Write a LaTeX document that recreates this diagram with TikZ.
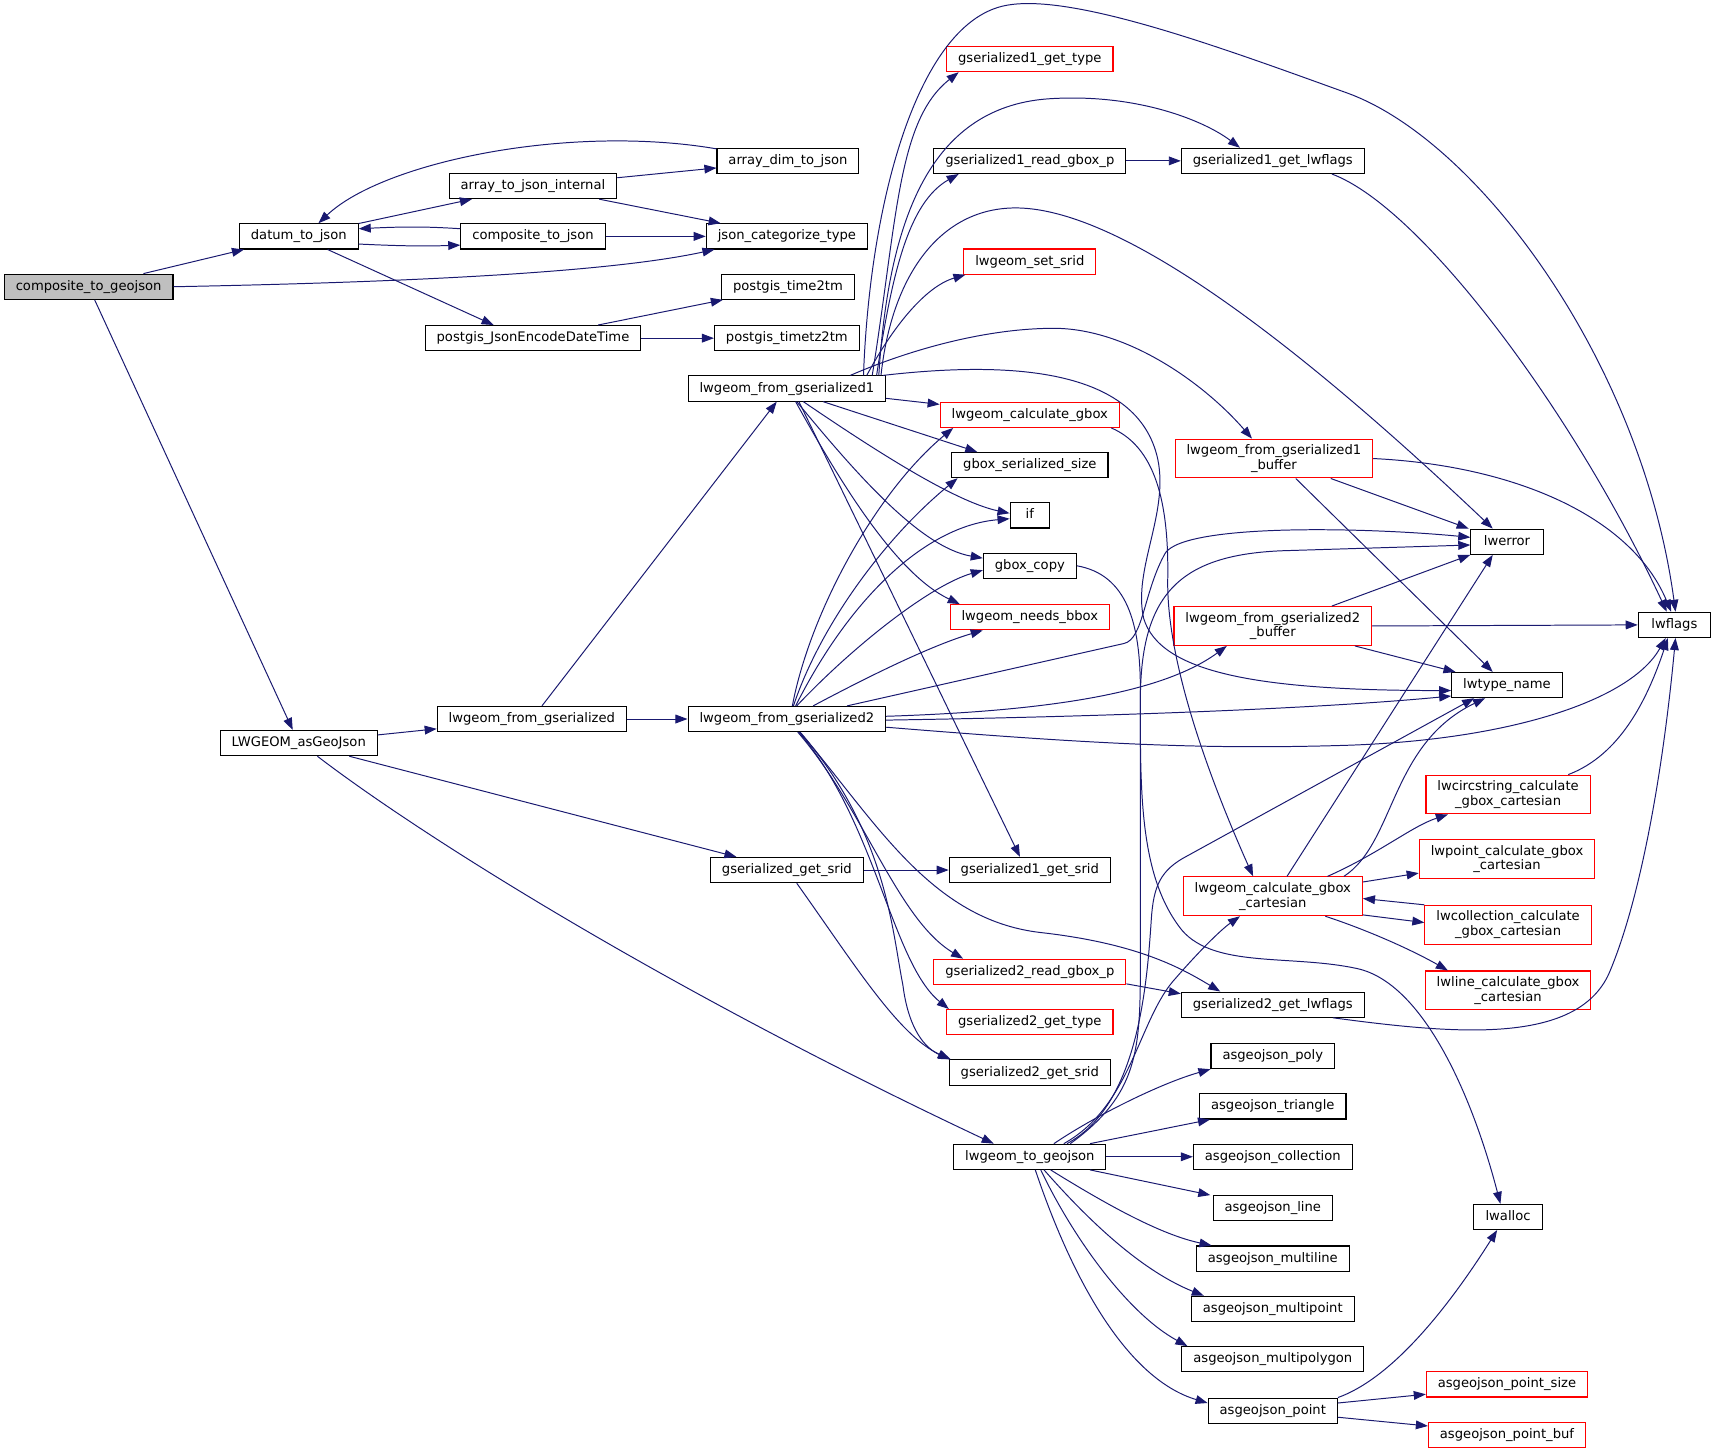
\documentclass[tikz,border=0pt]{standalone}
\usepackage{fontspec}
\usetikzlibrary{arrows.meta}
\newfontfamily\dejavu{DejaVu Sans}
\newcommand\fnfont{\dejavu\fontsize{12}{13.5}\selectfont}
\definecolor{edgeblue}{HTML}{191970}
\begin{document}
\begin{tikzpicture}[x=1pt, y=-1pt, >={Stealth[inset=0pt,length=11pt,width=8pt]},
	fn/.style={draw, line width=1pt, font=\fnfont, inner xsep=10.5pt, inner ysep=0pt, minimum height=23pt, text height=9.2pt, text depth=2.8pt},
	fnred/.style={fn, draw=red},
	fntwo/.style={draw=red, line width=1pt, font=\fnfont, align=center, inner xsep=10.5pt, inner ysep=5pt},
	call/.style={->, draw=edgeblue, line width=0.9pt}]
	\path[use as bounding box, fill=white] (0,0) rectangle (1568,1329);

	\node[fn, fill=gray!50] (compgeo) at (81,262) {composite\_to\_geojson};
	\node[fn] (datum) at (273,216) {datum\_to\_json};
	\node[fn] (arrint) at (487,170) {array\_to\_json\_internal};
	\node[fn] (compjson) at (487,216) {composite\_to\_json};
	\node[fn] (encdt) at (487,309) {postgis\_JsonEncodeDateTime};
	\node[fn] (arrdim) at (720,147) {array\_dim\_to\_json};
	\node[fn] (jsoncat) at (719,216) {json\_categorize\_type};
	\node[fn] (time2tm) at (720,262) {postgis\_time2tm};
	\node[fn] (timetz2tm) at (719,309) {postgis\_timetz2tm};
	\node[fn] (asgeo) at (273,679) {LWGEOM\_asGeoJson};
	\node[fn] (fromgs) at (486,657) {lwgeom\_from\_gserialized};
	\node[fn] (fromgs1) at (719,355) {lwgeom\_from\_gserialized1};
	\node[fn] (fromgs2) at (719,657) {lwgeom\_from\_gserialized2};
	\node[fn] (getsrid) at (719,795) {gserialized\_get\_srid};
	\node[fn] (togeo) at (941,1057) {lwgeom\_to\_geojson};
	\node[fnred] (gs1type) at (941,54) {gserialized1\_get\_type};
	\node[fn] (gs1gbox) at (941,147) {gserialized1\_read\_gbox\_p};
	\node[fnred] (setsrid) at (941,239) {lwgeom\_set\_srid};
	\node[fnred] (calcgbox) at (941,379) {lwgeom\_calculate\_gbox};
	\node[fn] (gboxsize) at (941,425) {gbox\_serialized\_size};
	\node[fn, minimum width=36pt] (ifnode) at (941,471) {if};
	\node[fn] (gboxcopy) at (941,517) {gbox\_copy};
	\node[fnred] (needsbbox) at (941,564) {lwgeom\_needs\_bbox};
	\node[fn] (gs1srid) at (941,795) {gserialized1\_get\_srid};
	\node[fnred] (gs2gbox) at (941,888) {gserialized2\_read\_gbox\_p};
	\node[fnred] (gs2type) at (941,934) {gserialized2\_get\_type};
	\node[fn] (gs2srid) at (941,980) {gserialized2\_get\_srid};
	\node[fn] (gs1flags) at (1163,147) {gserialized1\_get\_lwflags};
	\node[fntwo] (buf1) at (1164,419) {lwgeom\_from\_gserialized1\\\_buffer};
	\node[fntwo] (buf2) at (1163,572) {lwgeom\_from\_gserialized2\\\_buffer};
	\node[fntwo] (calccart) at (1163,819) {lwgeom\_calculate\_gbox\\\_cartesian};
	\node[fn] (gs2flags) at (1163,918) {gserialized2\_get\_lwflags};
	\node[fn] (poly) at (1163,965) {asgeojson\_poly};
	\node[fn] (triangle) at (1163,1011) {asgeojson\_triangle};
	\node[fn] (collection) at (1163,1057) {asgeojson\_collection};
	\node[fn] (line) at (1163,1104) {asgeojson\_line};
	\node[fn] (multiline) at (1163,1150) {asgeojson\_multiline};
	\node[fn] (multipoint) at (1163,1196) {asgeojson\_multipoint};
	\node[fn] (multipolygon) at (1163,1242) {asgeojson\_multipolygon};
	\node[fn] (point) at (1163,1289) {asgeojson\_point};
	\node[fn, minimum width=66pt] (lwerror) at (1377,495) {lwerror};
	\node[fn] (lwtypename) at (1377,626) {lwtype\_name};
	\node[fntwo] (circcart) at (1378,726) {lwcircstring\_calculate\\\_gbox\_cartesian};
	\node[fntwo] (pointcart) at (1377,785) {lwpoint\_calculate\_gbox\\\_cartesian};
	\node[fntwo] (collcart) at (1378,845) {lwcollection\_calculate\\\_gbox\_cartesian};
	\node[fntwo] (linecart) at (1378,905) {lwline\_calculate\_gbox\\\_cartesian};
	\node[fnred] (ptsize) at (1377,1265) {asgeojson\_point\_size};
	\node[fnred] (ptbuf) at (1377,1311) {asgeojson\_point\_buf};
	\node[fn, minimum width=63pt] (lwalloc) at (1378,1112) {lwalloc};
	\node[fn, minimum width=66pt] (lwflags) at (1530,571) {lwflags};

	\draw[call] (compgeo) -- (datum);
	\draw[call] (compgeo.east) .. controls (420,257) and (570,246) .. ([xshift=8pt]jsoncat.south west);
	\draw[call] (compgeo) -- (asgeo);
	\draw[call] (datum) -- (arrint);
	\draw[call] ([yshift=-7pt]datum.east) .. controls (370,225) and (390,225) .. ([yshift=-8pt]compjson.west);
	\draw[call] ([yshift=7pt]compjson.west) .. controls (390,207) and (370,207) .. ([yshift=7pt]datum.east);
	\draw[call] (datum) -- ([xshift=-36pt]encdt.north);
	\draw[call] (arrint) -- (arrdim);
	\draw[call] (arrint) -- (jsoncat);
	\draw[call] ([yshift=-1pt]arrdim.north west) .. controls (520,113) and (350,148) .. ([xshift=18pt]datum.north);
	\draw[call] (compjson) -- (jsoncat);
	\draw[call] (encdt) -- (time2tm);
	\draw[call] (encdt) -- (timetz2tm);

	\draw[call] (asgeo) -- (fromgs);
	\draw[call] (asgeo) -- (getsrid);
	\draw[call] ([xshift=17pt]asgeo.south) .. controls (380,760) and (600,900) .. ([xshift=-33pt]togeo.north);
	\draw[call] (fromgs) -- (fromgs1);
	\draw[call] (fromgs) -- (fromgs2);

	\draw[call] ([xshift=78pt]fromgs1.north) .. controls (820,200) and (820,110) .. ([xshift=-65pt]gs1type.south);
	\draw[call] ([xshift=82pt]fromgs1.north) .. controls (815,250) and (830,185) .. ([xshift=-65pt]gs1gbox.south);
	\draw[call] ([xshift=84pt]fromgs1.north) .. controls (812,200) and (850,95) .. (963,90) .. controls (1040,86) and (1100,110) .. ([xshift=-30pt]gs1flags.north);
	\draw[call] ([xshift=73pt]fromgs1.north) .. controls (815,300) and (845,262) .. ([xshift=2pt]setsrid.south west);
	\draw[call] ([xshift=86pt]fromgs1.north) .. controls (815,250) and (860,190) .. (928,190) .. controls (1010,190) and (1150,280) .. ([xshift=-13pt]lwerror.north);
	\draw[call] ([xshift=70pt]fromgs1.north) .. controls (795,180) and (840,20) .. (919,5) .. controls (980,-7) and (1120,45) .. (1231,85) .. controls (1350,128) and (1500,330) .. ([xshift=1pt]lwflags.north);
	\draw[call] ([xshift=58pt]fromgs1.north) .. controls (830,320) and (900,300) .. (963,300) .. controls (1030,300) and (1100,350) .. ([xshift=-20pt]buf1.north);
	\draw[call] ([xshift=88pt]fromgs1.north) .. controls (920,330) and (1040,335) .. (1058,420) .. controls (1068,470) and (1035,520) .. (1045,565) .. controls (1060,615) and (1150,631) .. ([yshift=-5pt]lwtypename.west);
	\draw[call] ([yshift=-9pt]fromgs1.east) -- ([yshift=9.5pt]calcgbox.west);
	\draw[call] ([xshift=33pt]fromgs1.south) -- ([xshift=-48pt]gboxsize.north);
	\draw[call] ([xshift=15pt]fromgs1.south) .. controls (790,405) and (870,458) .. ([yshift=2pt]ifnode.west);
	\draw[call] ([xshift=9pt]fromgs1.south) .. controls (780,430) and (840,500) .. ([yshift=7pt]gboxcopy.west);
	\draw[call] ([xshift=8pt]fromgs1.south) .. controls (770,445) and (820,525) .. ([xshift=-64pt]needsbbox.north);
	\draw[call] ([xshift=11pt]fromgs1.south) -- ([xshift=-9pt]gs1srid.north);

	\draw[call] ([xshift=5pt]fromgs2.north) .. controls (740,560) and (800,450) .. ([xshift=-70pt]calcgbox.south);
	\draw[call] ([xshift=6pt]fromgs2.north) .. controls (750,570) and (810,490) .. ([xshift=-66pt]gboxsize.south);
	\draw[call] ([xshift=8pt]fromgs2.north) .. controls (780,540) and (850,480) .. ([yshift=-3pt]ifnode.west);
	\draw[call] ([xshift=9pt]fromgs2.north) .. controls (780,590) and (850,535) .. ([yshift=-4pt]gboxcopy.west);
	\draw[call] ([xshift=24pt]fromgs2.north) .. controls (790,620) and (850,590) .. ([xshift=-43pt]needsbbox.south);
	\draw[call] ([xshift=55pt]fromgs2.north) -- (1027,588) .. controls (1045,584) and (1045,540) .. (1065,505) .. controls (1085,478) and (1250,482) .. ([yshift=4pt]lwerror.west);
	\draw[call] ([yshift=-1pt]fromgs2.east) .. controls (1000,655) and (1200,648) .. ([yshift=-10pt]lwtypename.west);
	\draw[call] ([yshift=2.5pt]fromgs2.east) .. controls (950,650) and (1060,635) .. ([xshift=-42pt]buf2.south);
	\draw[call] ([yshift=-7.5pt]fromgs2.east) .. controls (1000,680) and (1100,685) .. (1231,681) .. controls (1380,676) and (1490,640) .. ([xshift=-8pt]lwflags.south);
	\draw[call] ([xshift=10pt]fromgs2.south) .. controls (790,740) and (820,840) .. ([xshift=-61pt]gs2gbox.north);
	\draw[call] ([xshift=11pt]fromgs2.south) .. controls (800,750) and (815,880) .. ([xshift=-74pt]gs2type.north);
	\draw[call] ([xshift=12pt]fromgs2.south) .. controls (810,760) and (815,850) .. (825,900) .. controls (830,940) and (845,958) .. ([xshift=2pt]gs2srid.north west);
	\draw[call] ([xshift=12pt]fromgs2.south) .. controls (800,750) and (850,840) .. (950,852) .. controls (1040,862) and (1080,885) .. ([xshift=-48pt]gs2flags.north);

	\draw[call] (getsrid) -- (gs1srid);
	\draw[call] ([xshift=9pt]getsrid.south) .. controls (780,880) and (820,945) .. ([xshift=1pt]gs2srid.north west);
	\draw[call] (gs1gbox) -- (gs1flags);
	\draw[call] ([xshift=54pt]gs1flags.south) .. controls (1300,190) and (1440,380) .. ([xshift=-7pt]lwflags.north);
	\draw[call] ([yshift=-11pt]gs2gbox.east) -- ([yshift=10pt]gs2flags.west);
	\draw[call] ([xshift=55pt]gs2flags.south) .. controls (1330,945) and (1440,955) .. (1470,890) .. controls (1500,820) and (1520,700) .. ([xshift=1pt]lwflags.south);

	\draw[call] ([xshift=52pt]buf1.south) -- ([xshift=-35pt]lwerror.north);
	\draw[call] ([xshift=20pt]buf1.south) -- ([xshift=-13pt]lwtypename.north);
	\draw[call] (buf1.east) .. controls (1380,425) and (1490,470) .. ([xshift=-3pt]lwflags.north);
	\draw[call] ([xshift=54pt]buf2.north) -- (lwerror.south west);
	\draw[call] (buf2.east) -- (lwflags.west);
	\draw[call] ([xshift=75pt]buf2.south) -- ([xshift=-47pt]lwtypename.north);

	\draw[call] ([xshift=-8pt]calcgbox.south east) .. controls (1060,410) and (1068,470) .. (1067,530) .. controls (1066,600) and (1100,700) .. ([xshift=-18pt]calccart.north);
	\draw[call] (gboxcopy.east) .. controls (1030,525) and (1042,570) .. (1042,630) .. controls (1042,720) and (1040,800) .. (1080,850) .. controls (1110,885) and (1180,872) .. (1240,885) .. controls (1300,898) and (1345,1000) .. ([xshift=-7pt]lwalloc.north);

	\draw[call] ([xshift=13pt]calccart.north) -- ([xshift=-13pt]lwerror.south);
	\draw[call] ([xshift=65pt]calccart.north) .. controls (1275,770) and (1270,680) .. ([xshift=-20pt]lwtypename.south);
	\draw[call] ([xshift=50pt]calccart.north) .. controls (1260,780) and (1290,755) .. ([xshift=-55pt]circcart.south);
	\draw[call] (calccart) -- (pointcart);
	\draw[call] (collcart.north west) -- ([yshift=-2pt]calccart.east);
	\draw[call] ([yshift=-17pt]calccart.east) -- ([yshift=2pt]collcart.west);
	\draw[call] ([xshift=48pt]calccart.south) .. controls (1250,850) and (1290,868) .. ([xshift=-55pt]linecart.north);
	\draw[call] ([xshift=55pt]circcart.north) .. controls (1480,690) and (1505,640) .. ([xshift=-6pt]lwflags.south);

	\draw[call] ([xshift=22pt]togeo.north) .. controls (1000,1020) and (1060,990) .. (poly.south west);
	\draw[call] ([xshift=55pt]togeo.north) -- ([xshift=10pt]triangle.south west);
	\draw[call] (togeo) -- (collection);
	\draw[call] ([xshift=55pt]togeo.south) -- ([xshift=-2pt]line.north west);
	\draw[call] ([xshift=19pt]togeo.south) .. controls (1010,1100) and (1060,1128) .. ([xshift=-56pt]multiline.north);
	\draw[call] ([xshift=13pt]togeo.south) .. controls (990,1110) and (1040,1160) .. ([xshift=-63pt]multipoint.north);
	\draw[call] ([xshift=10pt]togeo.south) .. controls (980,1130) and (1030,1200) .. ([xshift=-78pt]multipolygon.north);
	\draw[call] ([xshift=5pt]togeo.south) .. controls (980,1170) and (1030,1260) .. ([yshift=7pt]point.west);
	\draw[call] ([xshift=31pt]togeo.north) .. controls (1035,1010) and (1040,930) .. (1075,893) .. controls (1095,870) and (1115,850) .. ([xshift=-30pt]calccart.south);
	\draw[call] ([xshift=34pt]togeo.north) .. controls (1040,1010) and (1048,900) .. (1052,840) .. controls (1054,810) and (1060,795) .. (1085,782) -- ([xshift=-30pt]lwtypename.south);
	\draw[call] ([xshift=37pt]togeo.north) .. controls (1040,1000) and (1042,960) .. (1042,880) -- (1042,640) .. controls (1042,540) and (1080,505) .. (1180,503) -- ([yshift=-3pt]lwerror.west);

	\draw[call] (point.north east) .. controls (1270,1260) and (1320,1200) .. ([xshift=-10pt]lwalloc.south);
	\draw[call] ([yshift=7pt]point.east) -- ([yshift=-9pt]ptsize.west);
	\draw[call] ([yshift=-6pt]point.east) -- ([yshift=8pt]ptbuf.west);
\end{tikzpicture}
\end{document}
